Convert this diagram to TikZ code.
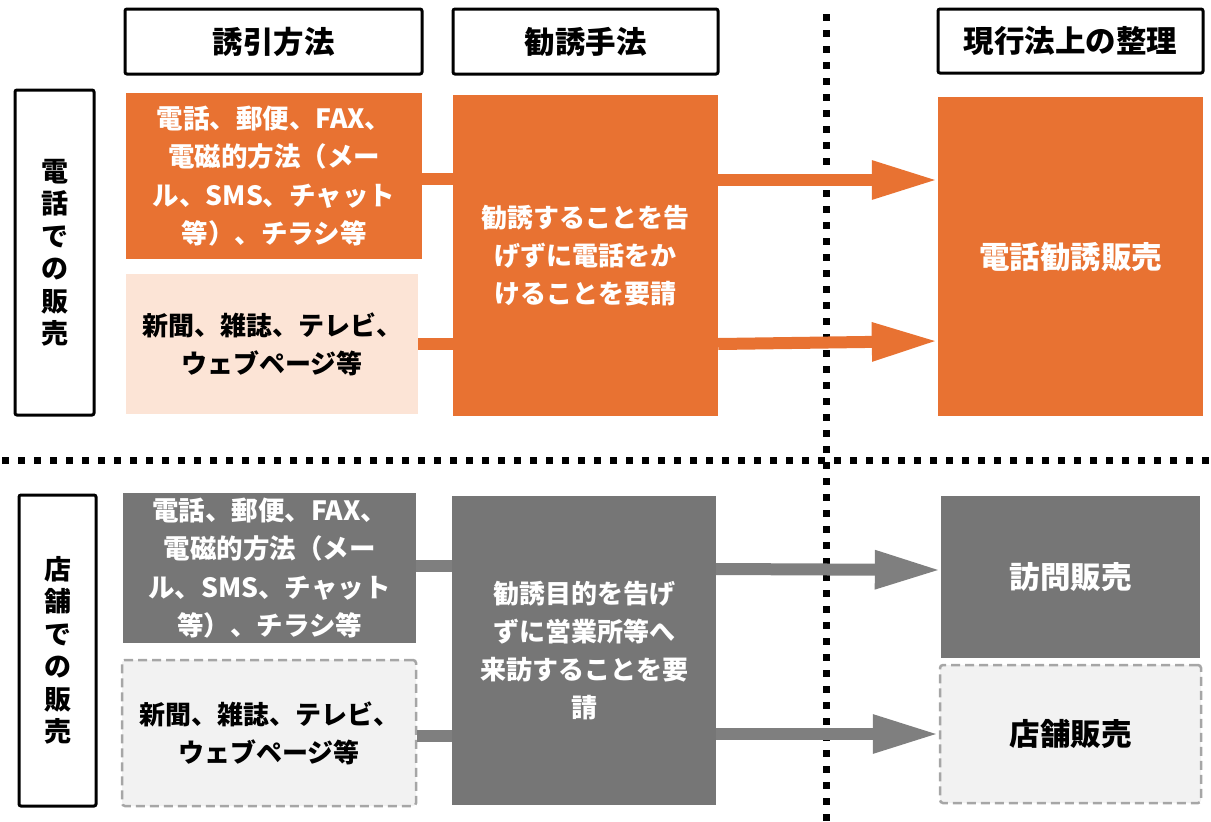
\documentclass[tikz,border=0pt]{standalone}
\usepackage{fontspec}
\setmainfont{Noto Sans CJK JP}
\usetikzlibrary{arrows.meta}
\definecolor{org}{HTML}{E87232}
\definecolor{lorg}{HTML}{FCE4D6}
\definecolor{gbx}{HTML}{767676}
\definecolor{garr}{HTML}{7F7F7F}
\definecolor{lgry}{HTML}{F2F2F2}
\definecolor{dgry}{HTML}{A6A6A6}
\begin{document}
\begin{tikzpicture}[x=1pt,y=-1pt,
  every node/.style={font=\bfseries\fontsize{26}{38}\selectfont, align=center, inner sep=0pt},
  hdr/.style={draw=black, line width=3pt, rounded corners=2pt, fill=white, font=\bfseries\fontsize{30.5}{34}\selectfont},
  sidebox/.style={draw=black, line width=3pt, rounded corners=2pt, fill=white, font=\bfseries\fontsize{27}{32.5}\selectfont},
  bigtxt/.style={font=\bfseries\fontsize{30.5}{36}\selectfont},
  obox/.style={fill=org, text=white},
  lobox/.style={fill=lorg, text=black},
  gbox/.style={fill=gbx, text=white},
  dbox/.style={fill=lgry, draw=dgry, line width=2.5pt, dash pattern=on 9pt off 5pt, rounded corners=3pt, text=black},
  conn/.style={line width=12pt},
  arr/.style={line width=12pt, -{Triangle[length=66pt,width=36pt]}},
  dots/.style={line width=7pt, dash pattern=on 7pt off 9pt, black}
]
\useasboundingbox (0,0) rectangle (1211,822);

% dotted separators
\draw[dots] (826,14) -- (826,822);
\draw[dots] (2,460) -- (1211,460);

% headers
\node[hdr, minimum width=297pt, minimum height=65pt] (h1) at (273.5,41.5) {誘引方法};
\node[hdr, minimum width=265pt, minimum height=65pt] (h2) at (585.5,41.5) {勧誘手法};
\node[hdr, minimum width=265pt, minimum height=64pt] (h3) at (1070.5,41) {現行法上の整理};

% side labels
\node[sidebox, minimum width=79pt, minimum height=325pt] (s1) at (54.5,252.5) {電\\話\\で\\の\\販\\売};
\node[sidebox, minimum width=77pt, minimum height=311pt] (s2) at (57.5,650.5) {店\\舗\\で\\の\\販\\売};

% top section
\node[obox, minimum width=296pt, minimum height=166pt, font=\bfseries\fontsize{26.5}{38.5}\selectfont] (a1) at (274,176) {電話、郵便、FAX、\\電磁的方法（メー\\ル、SMS、チャット\\等）、チラシ等};
\node[lobox, minimum width=292pt, minimum height=140pt] (a2) at (272,344) {新聞、雑誌、テレビ、\\ウェブページ等};
\node[obox, minimum width=265pt, minimum height=321pt] (a3) at (585.5,255.5) {勧誘することを告\\げずに電話をか\\けることを要請};
\node[obox, bigtxt, minimum width=265pt, minimum height=319pt] (a4) at (1070.5,256.5) {電話勧誘販売};

\draw[org, conn] (a1.east |- 0,179) -- (a3.west |- 0,179);
\draw[org, conn] (a2.east) -- (a3.west |- a2.east);
\draw[org, arr] (a3.east |- 0,180) -- (a4.west |- 0,180);
\draw[org, arr] (a3.east |- 0,344) -- (a4.west |- 0,341);

% bottom section
\node[gbox, minimum width=293pt, minimum height=150pt, font=\bfseries\fontsize{26.5}{38.5}\selectfont] (b1) at (269.5,568) {電話、郵便、FAX、\\電磁的方法（メー\\ル、SMS、チャット\\等）、チラシ等};
\node[dbox, minimum width=294pt, minimum height=146pt] (b2) at (269,733) {新聞、雑誌、テレビ、\\ウェブページ等};
\node[gbox, minimum width=264pt, minimum height=309pt] (b3) at (584,650.5) {勧誘目的を告げ\\ずに営業所等へ\\来訪することを要\\請};
\node[gbox, bigtxt, minimum width=259pt, minimum height=162pt] (b4) at (1070.5,577) {訪問販売};
\node[dbox, bigtxt, minimum width=261pt, minimum height=138pt] (b5) at (1070.5,734) {店舗販売};

\draw[garr, conn] (b1.east |- 0,566) -- (b3.west |- 0,566);
\draw[garr, conn] (b2.east |- 0,736) -- (b3.west |- 0,736);
\draw[garr, arr] (b3.east |- 0,569) -- (b4.west |- 0,570);
\draw[garr, arr] (b3.east |- 0,734) -- (b5.west |- 0,734);
\end{tikzpicture}
\end{document}
